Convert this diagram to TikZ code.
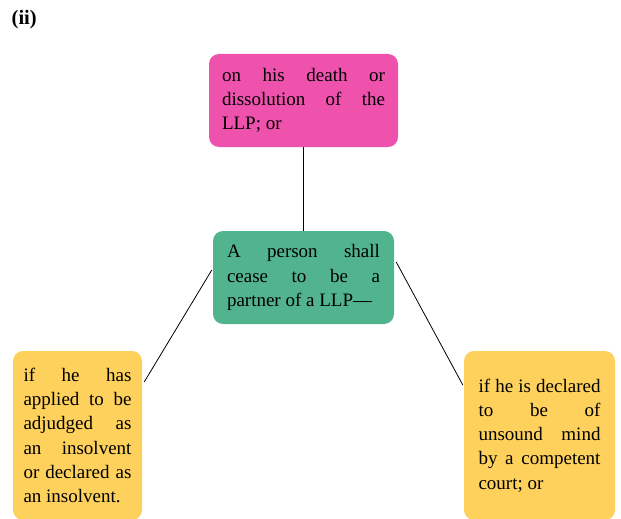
\documentclass[tikz,border=0pt]{standalone}
\usepackage{fontspec}
\setmainfont{Liberation Serif}
\definecolor{boxpink}{RGB}{239,82,172}
\definecolor{boxgreen}{RGB}{82,180,142}
\definecolor{boxyellow}{RGB}{253,209,92}
\begin{document}
\begin{tikzpicture}[x=1pt,y=-1pt,
  infobox/.style={draw=none, rounded corners=10pt, inner xsep=0pt, inner ysep=0pt,
    align=justify, font=\fontsize{19}{24.2}\selectfont, text=black},
  link/.style={draw=black, line width=0.8pt}]
\useasboundingbox (0,0) rectangle (621,519);

\node[anchor=north west, inner sep=0pt, font=\fontsize{20.5}{22}\selectfont\bfseries] (tag) at (11.5,10) {(ii)};

\node[infobox, fill=boxpink, minimum width=189pt, minimum height=93pt, text width=163pt] (death) at (303.5,100.5)
  {on his death or\linebreak dissolution of the\linebreak LLP; or};

\node[infobox, fill=boxgreen, minimum width=181pt, minimum height=93pt, text width=153pt] (cease) at (303.5,277.5)
  {A person shall\linebreak cease to be a\linebreak partner of a LLP—};

\node[infobox, fill=boxyellow, minimum width=129pt, minimum height=169pt, text width=108pt] (insolvent) at (77.5,435.5)
  {if he has\linebreak applied to be\linebreak adjudged as\linebreak an insolvent\linebreak or declared as\linebreak an insolvent.};

\node[infobox, fill=boxyellow, minimum width=151pt, minimum height=169pt, text width=122pt] (unsound) at (539.5,435.5)
  {if he is declared\linebreak to be of\linebreak unsound mind\linebreak by a competent\linebreak court; or};

\draw[link] (death.south) -- (cease.north);
\draw[link] ([xshift=-1pt,yshift=7.5pt]cease.west) -- ([xshift=2pt,yshift=53.5pt]insolvent.east);
\draw[link] ([xshift=2pt,yshift=15.5pt]cease.east) -- ([xshift=-1pt,yshift=50.5pt]unsound.west);
\end{tikzpicture}
\end{document}
